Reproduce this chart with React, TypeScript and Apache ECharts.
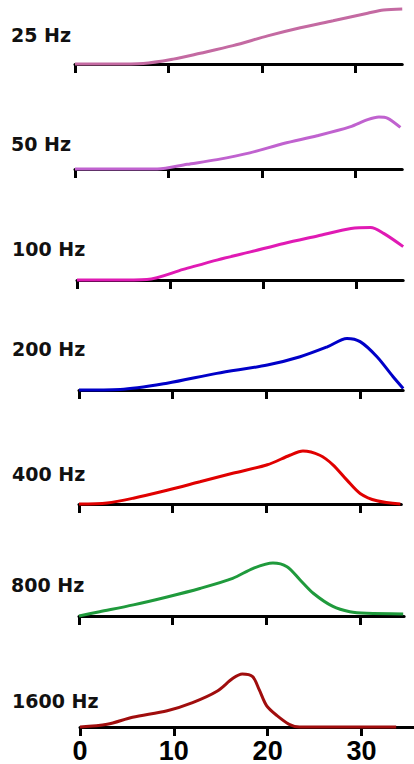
import React, { useEffect, useRef } from "react";
import * as echarts from "echarts";

// ---- data ----
const panelLabels = ["25 Hz", "50 Hz", "100 Hz", "200 Hz", "400 Hz", "800 Hz", "1600 Hz"];
const xTickValues = [0, 10, 20, 30];

const x25 = [0, 4, 7.3, 10.5, 13.4, 16.9, 20.6, 24.1, 27.6, 31.3, 33.0, 35];
const y25 = [0, 0, 0.01, 0.09, 0.2, 0.34, 0.52, 0.67, 0.8, 0.94, 1.0, 1.02];

const x50 = [0, 5, 8.8, 12.0, 15.2, 18.7, 22.3, 25.9, 29.4, 31.3, 32.5, 33.4, 34.8];
const y50 = [0, 0, 0, 0.09, 0.18, 0.31, 0.49, 0.64, 0.81, 0.95, 1.0, 0.98, 0.8];

const x100 = [0, 4, 7.5, 11.4, 15.1, 18.6, 22.2, 25.8, 29.4, 31.5, 32.9, 35];
const y100 = [0, 0, 0.01, 0.2, 0.38, 0.53, 0.69, 0.83, 0.97, 0.99, 0.88, 0.63];

const x200 = [0, 4.4, 9.4, 14.7, 20.1, 23.6, 26.5, 28.6, 30.0, 31.8, 33.5, 34.6];
const y200 = [0, 0.01, 0.13, 0.32, 0.48, 0.64, 0.83, 0.99, 0.93, 0.64, 0.26, 0.03];

const x400 = [0, 3.0, 5.8, 9.4, 12.9, 16.4, 20.1, 22.5, 23.9, 25.7, 27.1, 28.6, 30.0, 31.8, 34.3];
const y400 = [0, 0.02, 0.11, 0.26, 0.42, 0.58, 0.74, 0.92, 1.0, 0.92, 0.74, 0.45, 0.2, 0.06, 0];

const x800 = [0, 2.2, 5.8, 9.4, 12.9, 16.4, 18.6, 20.7, 22.2, 23.6, 25.0, 27.1, 28.9, 30.7, 34.6];
const y800 = [0, 0.08, 0.21, 0.36, 0.52, 0.71, 0.9, 1.0, 0.93, 0.68, 0.43, 0.18, 0.08, 0.05, 0.04];

const x1600 = [0, 2.9, 5.6, 9.3, 12.0, 14.6, 16.3, 17.3, 18.4, 19.1, 19.9, 21.0, 22.3, 23.4, 33.7];
const y1600 = [0, 0.05, 0.18, 0.3, 0.45, 0.66, 0.9, 0.98, 0.93, 0.69, 0.39, 0.21, 0.05, 0, 0];

const seriesX = [x25, x50, x100, x200, x400, x800, x1600];
const seriesY = [y25, y50, y100, y200, y400, y800, y1600];

// ---- layout / style ----
const colors = ["#c46aa2", "#c062cf", "#e01ab4", "#0000c8", "#e00000", "#1f9a3c", "#a00d0d"];
const axisYs = [64, 169, 280, 390, 504, 616, 728];
const lefts = [75, 75, 77, 79, 79, 79, 80];
const xMaxes = [35, 35, 35, 34.6, 34.4, 34.7, 35.6];
const pxPer10 = [93.5, 93.5, 93.2, 93.7, 93.7, 93.7, 94];
const pxPerUnitY = [54, 52, 53, 52, 53, 53, 55];
const labelPos = [
  [11, 34.5],
  [11, 143.5],
  [12, 248.5],
  [12, 348.5],
  [12, 473.5],
  [11, 584.5],
  [12, 700.5],
];
const yMax = 1.1;

export default function App() {
  const ref = useRef<HTMLDivElement>(null);

  useEffect(() => {
    if (!ref.current) return;
    const chart = echarts.init(ref.current, null, { renderer: "svg" });
    const n = panelLabels.length;
    const grids: any[] = [];
    const xAxes: any[] = [];
    const yAxes: any[] = [];
    const series: any[] = [];
    for (let i = 0; i < n; i++) {
      const h = pxPerUnitY[i] * yMax;
      const isLast = i === n - 1;
      grids.push({
        left: lefts[i],
        top: axisYs[i] - h,
        width: (xMaxes[i] * pxPer10[i]) / 10,
        height: h,
        containLabel: false,
      });
      xAxes.push({
        type: "value",
        gridIndex: i,
        min: 0,
        max: xMaxes[i],
        interval: 10,
        axisLine: { show: true, lineStyle: { color: "#000", width: 3 } },
        axisTick: {
          show: true,
          inside: false,
          length: 9,
          customValues: xTickValues,
          lineStyle: { color: "#000", width: 3 },
        },
        axisLabel: {
          show: isLast,
          customValues: xTickValues,
          margin: 10,
          color: "#000",
          fontSize: 27,
          fontWeight: "bold",
          fontFamily: "Liberation Sans, Arial, sans-serif",
        },
        splitLine: { show: false },
      });
      yAxes.push({
        type: "value",
        gridIndex: i,
        min: 0,
        max: yMax,
        show: false,
        splitLine: { show: false },
      });
      series.push({
        type: "line",
        xAxisIndex: i,
        yAxisIndex: i,
        data: seriesX[i].map((x, k) => [x, seriesY[i][k]]),
        showSymbol: false,
        symbol: "none",
        smooth: 0.3,
        clip: false,
        lineStyle: { color: colors[i], width: 3 },
        z: 3,
      });
    }
    const graphics = panelLabels.map((t, i) => ({
      type: "text",
      x: labelPos[i][0],
      y: labelPos[i][1],
      style: {
        text: t,
        fill: "#111",
        fontSize: 19,
        fontWeight: "bold",
        fontFamily: "DejaVu Sans, Verdana, sans-serif",
        textVerticalAlign: "middle",
        verticalAlign: "middle",
        textAlign: "left",
      },
    }));
    chart.setOption({
      animation: false,
      backgroundColor: "#fff",
      grid: grids,
      xAxis: xAxes,
      yAxis: yAxes,
      series,
      graphic: graphics,
    });
    return () => chart.dispose();
  }, []);

  return (
    <div
      ref={ref}
      style={{ position: "absolute", left: 0, top: 0, width: 414, height: 764 }}
    />
  );
}
